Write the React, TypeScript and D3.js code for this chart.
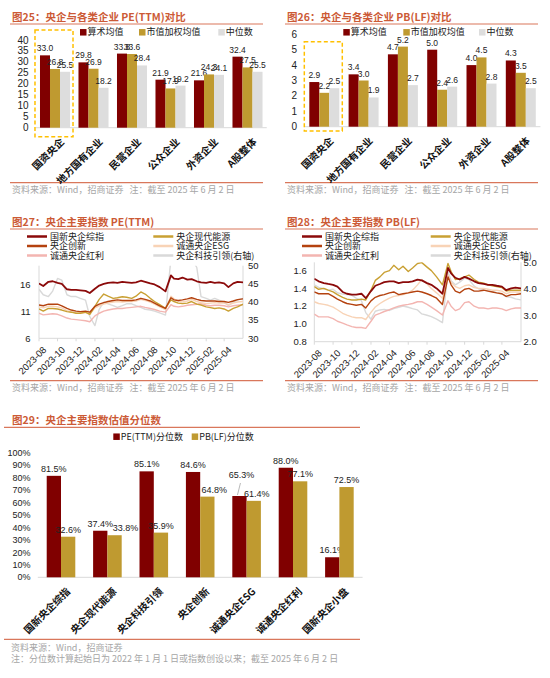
import { useEffect, useRef } from 'react';
import * as d3 from 'd3';

const W = 550;
const H = 678;

const TITLE_COLOR = '#CC5A36';
const RULE_COLOR = '#D9775B';
const NOTE_COLOR = '#A6A6A6';
const AXIS_COLOR = '#D9D9D9';
const DARK_RED = '#800000';
const GOLD = '#BF9A30';
const LIGHT_GRAY = '#DDDDDD';
const CN = "'Noto Sans CJK SC', 'Noto Sans', sans-serif";
const NUM = "'Liberation Sans', Arial, sans-serif";

// ---- 图25 / 图26 ----
const firmTypes = ['国资央企', '地方国有企业', '民营企业', '公众企业', '外资企业', 'A股整体'];
const barSeriesNames = ['算术均值', '市值加权均值', '中位数'];
const peArithmetic = [33.0, 29.8, 33.8, 21.9, 21.6, 32.4];
const peWeighted = [26.8, 26.9, 33.6, 17.9, 24.3, 27.5];
const peMedian = [25.5, 18.2, 28.4, 19.2, 24.1, 25.5];
const pbArithmetic = [2.9, 3.4, 4.7, 5.0, 4.0, 4.3];
const pbWeighted = [2.2, 3.0, 5.2, 2.4, 4.5, 3.5];
const pbMedian = [2.5, 1.9, 2.7, 2.6, 2.8, 2.5];
const peBarTicks = [0, 5, 10, 15, 20, 25, 30, 35, 40];
const pbBarTicks = [0, 1, 2, 3, 4, 5, 6];

// ---- 图27 / 图28 ----
const indexNames = ['国新央企综指', '央企现代能源', '央企创新', '诚通央企ESG', '诚通央企红利', '央企科技引领(右轴)'];
const sampleDates = [
  '2023-08-01', '2023-08-15', '2023-09-01', '2023-09-15', '2023-10-01', '2023-10-15',
  '2023-11-01', '2023-11-15', '2023-12-01', '2023-12-15', '2024-01-01', '2024-01-15',
  '2024-02-01', '2024-02-15', '2024-03-01', '2024-03-15', '2024-04-01', '2024-04-15',
  '2024-05-01', '2024-05-15', '2024-06-01', '2024-06-15', '2024-07-01', '2024-07-15',
  '2024-08-01', '2024-08-15', '2024-09-01', '2024-09-20', '2024-10-08', '2024-10-18',
  '2024-11-01', '2024-11-15', '2024-12-01', '2024-12-15', '2025-01-01', '2025-01-15',
  '2025-02-01', '2025-02-15', '2025-03-01', '2025-03-15', '2025-04-01', '2025-04-15',
  '2025-05-01', '2025-05-15', '2025-06-02',
];
const monthTicks = ['2023-08', '2023-10', '2023-12', '2024-02', '2024-04', '2024-06', '2024-08', '2024-10', '2024-12', '2025-02', '2025-04'];

const peGuoxin = [16.3, 15.8, 16.6, 16.7, 16.4, 16.2, 15.2, 15.1, 15.1, 15.0, 14.9, 14.5, 15.3, 15.9, 16.2, 16.4, 16.5, 16.4, 16.6, 16.5, 16.4, 16.5, 16.8, 16.6, 16.3, 16.1, 15.6, 14.8, 17.8, 17.2, 17.1, 17.4, 17.0, 17.1, 16.7, 16.5, 16.4, 16.6, 16.4, 16.5, 16.3, 15.6, 16.3, 16.6, 16.5];
const peEnergy = [11.5, 11.1, 11.6, 11.6, 11.5, 11.3, 11.0, 10.9, 10.7, 10.7, 10.9, 10.5, 12.0, 13.3, 14.3, 13.9, 13.5, 13.6, 13.8, 13.7, 13.5, 13.9, 14.7, 14.3, 13.5, 12.9, 12.3, 11.6, 13.2, 12.9, 12.6, 12.5, 12.6, 12.9, 12.4, 12.25, 11.9, 11.75, 11.6, 11.7, 11.5, 11.1, 11.6, 11.9, 12.4];
const peInnovation = [12.25, 12.1, 12.4, 12.4, 12.4, 12.1, 11.6, 11.3, 11.1, 11.0, 11.1, 10.9, 12.0, 12.4, 12.7, 12.9, 13.1, 13.2, 13.1, 13.1, 13.1, 13.2, 13.5, 13.3, 13.0, 12.6, 12.1, 11.6, 13.6, 13.2, 13.1, 13.2, 13.4, 13.6, 13.3, 13.1, 13.0, 13.0, 13.0, 12.9, 12.9, 12.75, 13.0, 13.25, 13.4];
const peEsg = [11.9, 11.7, 12.0, 12.0, 11.9, 11.7, 11.2, 11.0, 10.8, 10.7, 10.8, 10.5, 11.7, 12.1, 12.4, 12.6, 12.8, 12.9, 12.8, 12.9, 12.9, 13.0, 13.3, 13.1, 12.8, 12.4, 11.9, 11.4, 13.9, 13.4, 12.9, 12.8, 13.0, 13.3, 12.9, 12.7, 12.5, 12.6, 12.7, 12.6, 12.6, 12.3, 12.6, 12.8, 12.9];
const peDividend = [10.7, 10.4, 10.5, 10.6, 10.5, 10.2, 9.8, 9.6, 9.5, 9.4, 9.3, 9.1, 10.2, 10.7, 11.1, 11.3, 11.5, 11.6, 11.6, 11.7, 11.8, 11.9, 12.0, 11.8, 11.6, 11.4, 11.1, 10.9, 12.3, 12.0, 11.9, 12.0, 12.2, 12.3, 12.4, 12.5, 12.2, 12.1, 12.2, 12.2, 12.1, 11.9, 12.1, 12.2, 12.3];
const peTech = [43.5, 42, 41.5, 43, 46.5, 46, 42, 41.5, 41.5, 41, 40.5, 36, 33.5, 38, 40, 39.5, 39, 38.5, 39, 39.5, 39.5, 39, 38.5, 38, 37.8, 37.5, 37, 36.4, 52, 53, 55, 56, 55, 52, 49.5, 41.5, 41, 40.5, 41, 40.5, 40, 39, 40, 40.5, 41];
const peLeftTicks = [6, 11, 16];
const peRightTicks = [30, 35, 40, 45, 50];

const pbGuoxin = [1.51, 1.48, 1.46, 1.45, 1.44, 1.42, 1.36, 1.34, 1.33, 1.33, 1.34, 1.29, 1.37, 1.43, 1.45, 1.47, 1.48, 1.48, 1.46, 1.47, 1.47, 1.48, 1.50, 1.49, 1.46, 1.44, 1.40, 1.34, 1.63, 1.57, 1.52, 1.50, 1.53, 1.51, 1.48, 1.46, 1.45, 1.44, 1.44, 1.43, 1.42, 1.38, 1.40, 1.41, 1.40];
const pbEnergy = [1.42, 1.39, 1.40, 1.38, 1.36, 1.33, 1.30, 1.28, 1.27, 1.27, 1.28, 1.27, 1.38, 1.49, 1.53, 1.58, 1.60, 1.66, 1.61, 1.65, 1.59, 1.63, 1.68, 1.69, 1.64, 1.60, 1.53, 1.44, 1.68, 1.59, 1.50, 1.51, 1.53, 1.55, 1.50, 1.47, 1.46, 1.44, 1.43, 1.42, 1.41, 1.37, 1.38, 1.38, 1.38];
const pbInnovation = [1.36, 1.34, 1.34, 1.34, 1.31, 1.28, 1.25, 1.23, 1.22, 1.21, 1.22, 1.18, 1.26, 1.30, 1.32, 1.33, 1.35, 1.36, 1.33, 1.34, 1.35, 1.36, 1.37, 1.36, 1.34, 1.32, 1.29, 1.22, 1.53, 1.44, 1.37, 1.35, 1.39, 1.40, 1.37, 1.37, 1.38, 1.37, 1.36, 1.35, 1.34, 1.31, 1.33, 1.33, 1.34];
const pbEsg = [1.25, 1.23, 1.22, 1.21, 1.19, 1.16, 1.12, 1.10, 1.08, 1.07, 1.07, 1.05, 1.13, 1.19, 1.23, 1.26, 1.29, 1.31, 1.32, 1.33, 1.35, 1.38, 1.44, 1.50, 1.45, 1.40, 1.35, 1.29, 1.55, 1.47, 1.42, 1.40, 1.43, 1.44, 1.41, 1.40, 1.40, 1.39, 1.38, 1.38, 1.37, 1.34, 1.36, 1.36, 1.36];
const pbDividend = [1.11, 1.08, 1.08, 1.08, 1.06, 1.03, 1.01, 0.99, 0.97, 0.96, 0.96, 0.95, 1.03, 1.10, 1.12, 1.14, 1.16, 1.18, 1.20, 1.21, 1.22, 1.23, 1.25, 1.25, 1.22, 1.19, 1.15, 1.10, 1.26, 1.20, 1.15, 1.17, 1.24, 1.25, 1.20, 1.18, 1.18, 1.17, 1.18, 1.18, 1.17, 1.15, 1.17, 1.18, 1.18];
const pbTech = [4.15, 4.05, 4.0, 3.95, 3.98, 3.85, 3.80, 3.78, 3.75, 3.65, 3.55, 3.10, 2.85, 3.15, 3.20, 3.22, 3.18, 3.25, 3.30, 3.35, 3.30, 3.25, 3.20, 3.05, 3.00, 2.95, 2.85, 2.72, 4.65, 4.30, 4.15, 4.25, 4.40, 4.35, 4.10, 4.00, 3.95, 3.92, 3.90, 3.85, 3.80, 3.70, 3.68, 3.62, 3.58];
const pbLeftTicks = [0.8, 1.0, 1.2, 1.4, 1.6];
const pbRightTicks = [2, 3, 4, 5];

// ---- 图29 ----
const percentileIndexes = ['国新央企综指', '央企现代能源', '央企科技引领', '央企创新', '诚通央企ESG', '诚通央企红利', '国新央企小盘'];
const percentileNames = ['PE(TTM)分位数', 'PB(LF)分位数'];
const pePercentile = [0.815, 0.374, 0.851, 0.846, 0.653, 0.88, 0.161];
const pbPercentile = [0.326, 0.338, 0.359, 0.648, 0.614, 0.771, 0.725];
const percentTicks = [0, 0.1, 0.2, 0.3, 0.4, 0.5, 0.6, 0.7, 0.8, 0.9, 1.0];

const lineColors = ['#8B0A0A', '#C9A033', '#B4420F', '#F8D3B6', '#F3B5B1', '#D9D9D9'];

type Sel = d3.Selection<SVGGElement, unknown, null, undefined>;

function frame(g: Sel, o: {
  x0: number; x1: number; titleX: number; title: string; ruleY: number;
  footRuleY: number; notes: string[]; noteX: number; noteY: number;
}) {
  g.append('text')
    .attr('x', o.titleX)
    .attr('y', o.ruleY - 3.5)
    .attr('fill', TITLE_COLOR)
    .attr('font-size', '10.5px')
    .attr('font-weight', 'bold')
    .attr('font-family', CN)
    .text(o.title);
  for (const y of [o.ruleY, o.footRuleY]) {
    g.append('line')
      .attr('x1', o.x0).attr('x2', o.x1)
      .attr('y1', y).attr('y2', y)
      .attr('stroke', RULE_COLOR)
      .attr('stroke-width', 1.2);
  }
  o.notes.forEach((n, i) => {
    g.append('text')
      .attr('x', o.noteX)
      .attr('y', o.noteY + i * 11)
      .attr('fill', NOTE_COLOR)
      .attr('font-size', '9px')
      .attr('font-family', CN)
      .attr('xml:space', 'preserve')
      .text(n);
  });
}

function barPanel(g: Sel, o: {
  categories: string[]; series: number[][]; names: string[]; colors: string[];
  x0: number; x1: number; yBottom: number; yTop: number; domain: [number, number];
  ticks: number[]; tickFmt: (v: number) => string; valueFmt: (v: number) => string;
  tickX: number; padInner: number; legendX: number[]; legendY: number;
  tickSize: number; valueSize: number; catSize: number; legendSize: number;
  box?: [number, number]; lifted?: [number, number, number]; shifts?: [number, number, number][];
}) {
  const x = d3.scaleBand<string>().domain(o.categories).range([o.x0, o.x1])
    .paddingInner(o.padInner).paddingOuter(o.padInner / 2);
  const sub = d3.scaleBand<number>().domain(d3.range(o.series.length)).range([0, x.bandwidth()]);
  const y = d3.scaleLinear().domain(o.domain).range([o.yBottom, o.yTop]);

  for (const t of o.ticks) {
    g.append('text')
      .attr('x', o.tickX).attr('y', y(t))
      .attr('dy', '0.35em')
      .attr('text-anchor', 'end')
      .attr('fill', '#222')
      .attr('font-size', `${o.tickSize}px`)
      .attr('font-family', NUM)
      .text(o.tickFmt(t));
  }

  g.append('line')
    .attr('x1', o.x0).attr('x2', o.x1)
    .attr('y1', y(0)).attr('y2', y(0))
    .attr('stroke', AXIS_COLOR);

  o.series.forEach((vals, si) => {
    vals.forEach((v, ci) => {
      const bx = (x(o.categories[ci]) ?? 0) + (sub(si) ?? 0);
      g.append('rect')
        .attr('x', bx).attr('y', y(v))
        .attr('width', sub.bandwidth()).attr('height', y(0) - y(v))
        .attr('fill', o.colors[si]);
      const lift = o.lifted && o.lifted[0] === si && o.lifted[1] === ci ? o.lifted[2] : 0;
      const shift = o.shifts?.find((s) => s[0] === si && s[1] === ci)?.[2] ?? 0;
      const cx = bx + sub.bandwidth() / 2;
      if (lift) {
        g.append('line')
          .attr('x1', cx + 1).attr('x2', cx - 2)
          .attr('y1', y(v) - lift + 1).attr('y2', y(v) - 1)
          .attr('stroke', '#A6A6A6').attr('stroke-width', 0.8);
      }
      g.append('text')
        .attr('x', cx + shift + (lift ? 2 : 0)).attr('y', y(v) - 4 - lift)
        .attr('text-anchor', 'middle')
        .attr('fill', '#222')
        .attr('font-size', `${o.valueSize}px`)
        .attr('font-family', NUM)
        .text(o.valueFmt(v));
    });
  });

  for (const c of o.categories) {
    const cx = (x(c) ?? 0) + x.bandwidth() / 2;
    g.append('text')
      .attr('transform', `translate(${cx + 3},${y(0) + 8}) rotate(-45)`)
      .attr('text-anchor', 'end')
      .attr('dominant-baseline', 'hanging')
      .attr('fill', '#111')
      .attr('font-size', `${o.catSize}px`)
      .attr('font-weight', 'bold')
      .attr('font-family', CN)
      .text(c);
  }

  o.names.forEach((n, i) => {
    g.append('rect')
      .attr('x', o.legendX[i]).attr('y', o.legendY - 3.25)
      .attr('width', 6.5).attr('height', 6.5)
      .attr('fill', o.colors[i]);
    g.append('text')
      .attr('x', o.legendX[i] + 7.5).attr('y', o.legendY)
      .attr('dy', '0.35em')
      .attr('fill', '#222')
      .attr('font-size', `${o.legendSize}px`)
      .attr('font-family', CN)
      .text(n);
  });

  if (o.box) {
    const bx = x(o.categories[0]) ?? 0;
    g.append('rect')
      .attr('x', bx - 5).attr('y', o.box[0])
      .attr('width', x.bandwidth() + 8).attr('height', o.box[1] - o.box[0])
      .attr('fill', 'none')
      .attr('stroke', '#FFC000')
      .attr('stroke-width', 1.5)
      .attr('stroke-dasharray', '4,2.5');
  }
}

function linePanel(g: Sel, o: {
  id: string; x0: number; x1: number; yTop: number; yBottom: number;
  leftDomain: [number, number]; rightDomain: [number, number];
  leftTicks: number[]; rightTicks: number[]; fmt: (v: number) => string;
  leftLabelX: number; rightLabelX: number; series: number[][];
  legendX: [number, number]; legendY: number[];
}) {
  const parse = d3.utcParse('%Y-%m-%d');
  const dates = sampleDates.map((d) => parse(d) as Date);
  const x = d3.scaleUtc().domain([dates[0], dates[dates.length - 1]]).range([o.x0, o.x1]);
  const yL = d3.scaleLinear().domain(o.leftDomain).range([o.yBottom, o.yTop]);
  const yR = d3.scaleLinear().domain(o.rightDomain).range([o.yBottom, o.yTop]);

  // axes
  g.append('line').attr('x1', o.x0).attr('x2', o.x0).attr('y1', o.yTop).attr('y2', o.yBottom).attr('stroke', AXIS_COLOR);
  g.append('line').attr('x1', o.x1).attr('x2', o.x1).attr('y1', o.yTop).attr('y2', o.yBottom).attr('stroke', AXIS_COLOR);
  g.append('line').attr('x1', o.x0).attr('x2', o.x1).attr('y1', o.yBottom).attr('y2', o.yBottom).attr('stroke', AXIS_COLOR);

  for (const t of o.leftTicks) {
    g.append('text')
      .attr('x', o.leftLabelX).attr('y', yL(t)).attr('dy', '0.35em')
      .attr('text-anchor', 'end').attr('fill', '#222')
      .attr('font-size', '9.5px').attr('font-family', NUM)
      .text(o.fmt(t));
  }
  for (const t of o.rightTicks) {
    g.append('text')
      .attr('x', o.rightLabelX).attr('y', yR(t)).attr('dy', '0.35em')
      .attr('fill', '#222')
      .attr('font-size', '9.5px').attr('font-family', NUM)
      .text(o.fmt(t));
  }

  for (const m of monthTicks) {
    const tx = x(parse(`${m}-01`) as Date);
    g.append('line')
      .attr('x1', tx).attr('x2', tx)
      .attr('y1', o.yBottom).attr('y2', o.yBottom + 3)
      .attr('stroke', AXIS_COLOR);
    g.append('text')
      .attr('transform', `translate(${tx + 3},${o.yBottom + 7}) rotate(-45)`)
      .attr('text-anchor', 'end')
      .attr('dominant-baseline', 'hanging')
      .attr('fill', '#222')
      .attr('font-size', '9.5px')
      .attr('font-family', NUM)
      .text(m);
  }

  g.append('clipPath').attr('id', o.id)
    .append('rect')
    .attr('x', o.x0).attr('y', o.yTop)
    .attr('width', o.x1 - o.x0).attr('height', o.yBottom - o.yTop);

  const plot = g.append('g').attr('clip-path', `url(#${o.id})`);
  const drawOrder = [5, 4, 3, 1, 2, 0];
  for (const si of drawOrder) {
    const scale = si === 5 ? yR : yL;
    const line = d3.line<number>()
      .x((_, i) => x(dates[i]))
      .y((v) => scale(v));
    plot.append('path')
      .datum(o.series[si])
      .attr('d', line)
      .attr('fill', 'none')
      .attr('stroke', lineColors[si])
      .attr('stroke-width', si === 0 ? 1.8 : 1.4)
      .attr('stroke-linejoin', 'round');
  }

  indexNames.forEach((n, i) => {
    const lx = o.legendX[i % 2];
    const ly = o.legendY[Math.floor(i / 2)];
    g.append('line')
      .attr('x1', lx).attr('x2', lx + 20)
      .attr('y1', ly).attr('y2', ly)
      .attr('stroke', lineColors[i])
      .attr('stroke-width', 2.5);
    g.append('text')
      .attr('x', lx + 23).attr('y', ly).attr('dy', '0.35em')
      .attr('fill', '#222')
      .attr('font-size', '9px')
      .attr('font-family', CN)
      .text(n);
  });
}

export default function App() {
  const svgRef = useRef<SVGSVGElement>(null);

  useEffect(() => {
    const svg = d3.select(svgRef.current);
    svg.selectAll('*').remove();
    const g = svg.append('g') as unknown as Sel;

    g.append('rect').attr('width', W).attr('height', H).attr('fill', '#fff');

    const topNote = ['资料来源：Wind，招商证券   注：截至 2025 年 6 月 2 日'];

    // 图25
    frame(g, { x0: 10, x1: 263, titleX: 12, title: '图25：央企与各类企业 PE(TTM)对比', ruleY: 24, footRuleY: 182.7, notes: topNote, noteX: 12, noteY: 192.5 });
    barPanel(g, {
      categories: firmTypes, series: [peArithmetic, peWeighted, peMedian], names: barSeriesNames,
      colors: [DARK_RED, GOLD, LIGHT_GRAY], x0: 35.75, x1: 266.75, yBottom: 127.7, yTop: 40,
      domain: [0, 40], ticks: peBarTicks, tickFmt: (v) => `${v}`, valueFmt: d3.format('.1f'),
      tickX: 28.5, padInner: 0.22, legendX: [80, 139, 218.3], legendY: 32.3,
      tickSize: 10, valueSize: 8.5, catSize: 10, legendSize: 9, box: [30, 136.7],
    });

    // 图26
    frame(g, { x0: 285, x1: 538, titleX: 287, title: '图26：央企与各类企业 PB(LF)对比', ruleY: 24, footRuleY: 182.7, notes: topNote, noteX: 287, noteY: 192.5 });
    barPanel(g, {
      categories: firmTypes, series: [pbArithmetic, pbWeighted, pbMedian], names: barSeriesNames,
      colors: [DARK_RED, GOLD, LIGHT_GRAY], x0: 304.65, x1: 540.45, yBottom: 126.7, yTop: 34.3,
      domain: [0, 6], ticks: pbBarTicks, tickFmt: (v) => `${v}`, valueFmt: d3.format('.1f'),
      tickX: 297, padInner: 0.237, legendX: [343.3, 403.3, 479], legendY: 32.3,
      tickSize: 10, valueSize: 8.5, catSize: 10, legendSize: 9, box: [41.7, 131],
    });

    // 图27
    frame(g, { x0: 10, x1: 263, titleX: 12, title: '图27：央企主要指数 PE(TTM)', ruleY: 229, footRuleY: 380.7, notes: topNote, noteX: 12, noteY: 391 });
    linePanel(g, {
      id: 'clip27', x0: 39, x1: 243, yTop: 265.7, yBottom: 338.3,
      leftDomain: [6, 19.62], rightDomain: [30, 50], leftTicks: peLeftTicks, rightTicks: peRightTicks,
      fmt: (v) => `${v}`, leftLabelX: 30.5, rightLabelX: 248,
      series: [peGuoxin, peEnergy, peInnovation, peEsg, peDividend, peTech],
      legendX: [27, 153.3], legendY: [236.5, 246, 255.5],
    });

    // 图28
    frame(g, { x0: 285, x1: 538, titleX: 287, title: '图28：央企主要指数 PB(LF)', ruleY: 229, footRuleY: 380.7, notes: topNote, noteX: 287, noteY: 391 });
    linePanel(g, {
      id: 'clip28', x0: 314.3, x1: 521, yTop: 262.3, yBottom: 341.7,
      leftDomain: [0.8, 1.694], rightDomain: [2, 5], leftTicks: pbLeftTicks, rightTicks: pbRightTicks,
      fmt: d3.format('.1f'), leftLabelX: 306.7, rightLabelX: 523.5,
      series: [pbGuoxin, pbEnergy, pbInnovation, pbEsg, pbDividend, pbTech],
      legendX: [302, 430.7], legendY: [236.5, 246, 255.5],
    });

    // 图29
    frame(g, {
      x0: 4, x1: 360, titleX: 12, title: '图29：央企主要指数估值分位数', ruleY: 427.3, footRuleY: 639.3,
      notes: ['资料来源：Wind，招商证券', '注：分位数计算起始日为 2022 年 1 月 1 日或指数创设以来；截至 2025 年 6 月 2 日'],
      noteX: 11, noteY: 650.5,
    });
    barPanel(g, {
      categories: percentileIndexes, series: [pePercentile, pbPercentile], names: percentileNames,
      colors: [DARK_RED, GOLD], x0: 37.8, x1: 362.6, yBottom: 577.3, yTop: 452.8,
      domain: [0, 1], ticks: percentTicks, tickFmt: d3.format('.0%'), valueFmt: d3.format('.1%'),
      tickX: 30.5, padInner: 0.384, legendX: [113.3, 191.7], legendY: 436.7,
      tickSize: 9, valueSize: 9, catSize: 10, legendSize: 9, lifted: [0, 4, 14],
      shifts: [[1, 1, 11], [1, 3, 7], [1, 4, 3]],
    });
  }, []);

  return (
    <div style={{ position: 'absolute', left: 0, top: 0 }}>
      <svg ref={svgRef} width={W} height={H} viewBox={`0 0 ${W} ${H}`} style={{ display: 'block' }} />
    </div>
  );
}
